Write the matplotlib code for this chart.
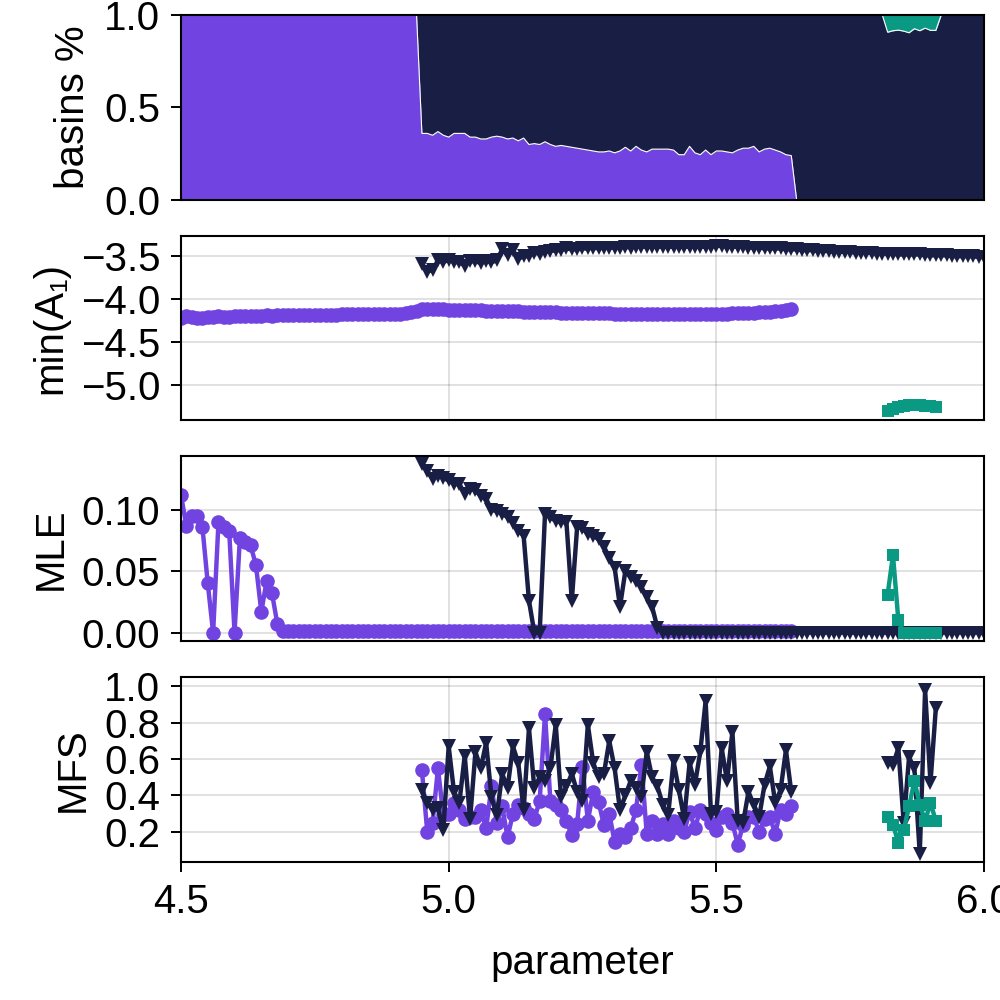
import matplotlib
matplotlib.use('Agg')
import matplotlib.pyplot as plt
import numpy as np

plt.rcParams['font.family'] = ['Liberation Sans', 'DejaVu Sans']

PURPLE = '#7143E0'
TEAL = '#0A9A84'
NAVY = '#191E44'

# parameter grid 4.50 ... 6.00, step 0.01
param = np.round(np.linspace(4.5, 6.0, 151), 2)

# --- basins fractions (full grid) ---
basin_purple = [
    1.0, 1.0, 1.0, 1.0, 1.0, 1.0, 1.0, 1.0, 1.0, 1.0,
    1.0, 1.0, 1.0, 1.0, 1.0, 1.0, 1.0, 1.0, 1.0, 1.0,
    1.0, 1.0, 1.0, 1.0, 1.0, 1.0, 1.0, 1.0, 1.0, 1.0,
    1.0, 1.0, 1.0, 1.0, 1.0, 1.0, 1.0, 1.0, 1.0, 1.0,
    1.0, 1.0, 1.0, 1.0, 1.0,
    0.36, 0.36, 0.35, 0.37, 0.35, 0.34, 0.36, 0.36, 0.36, 0.34,
    0.34, 0.33, 0.33, 0.34, 0.345, 0.34, 0.33, 0.335, 0.32, 0.335,
    0.30, 0.305, 0.30, 0.315, 0.30, 0.29, 0.295, 0.29, 0.285, 0.28,
    0.275, 0.27, 0.265, 0.26, 0.26, 0.265, 0.255, 0.265, 0.285, 0.265,
    0.29, 0.27, 0.26, 0.275, 0.275, 0.275, 0.275, 0.27, 0.245, 0.245,
    0.29, 0.255, 0.245, 0.27, 0.245, 0.265, 0.265, 0.26, 0.255, 0.27,
    0.28, 0.28, 0.29, 0.26, 0.275, 0.28, 0.27, 0.26, 0.245, 0.24,
    0.0, 0.0, 0.0, 0.0, 0.0, 0.0, 0.0, 0.0, 0.0, 0.0,
    0.0, 0.0, 0.0, 0.0, 0.0, 0.0, 0.0, 0.0, 0.0, 0.0,
    0.0, 0.0, 0.0, 0.0, 0.0, 0.0, 0.0, 0.0, 0.0, 0.0,
    0.0, 0.0, 0.0, 0.0, 0.0, 0.0,
]
# teal basin only between 5.82 and 5.91
teal_range = (5.82, 5.91)
basin_teal_vals = [0.093, 0.085, 0.082, 0.087, 0.096, 0.074, 0.085, 0.071, 0.083, 0.083]

# --- min(A1) ---
mina_purple = [  # 4.50 .. 5.64
    -4.22, -4.20, -4.21, -4.22, -4.22, -4.21, -4.21, -4.20, -4.21, -4.21,
    -4.20, -4.20, -4.20, -4.20, -4.20, -4.20, -4.19, -4.20, -4.19, -4.19,
    -4.19, -4.19, -4.19, -4.19, -4.19, -4.19, -4.19, -4.19, -4.19, -4.19,
    -4.18, -4.18, -4.18, -4.18, -4.18, -4.18, -4.18, -4.18, -4.18, -4.17,
    -4.17, -4.17, -4.16, -4.15, -4.14,
    -4.12, -4.12, -4.12, -4.12, -4.12,
    -4.13, -4.13, -4.13, -4.13, -4.13, -4.13, -4.13, -4.14, -4.14, -4.14,
    -4.14, -4.14, -4.14, -4.14, -4.15, -4.15, -4.15, -4.15, -4.15, -4.15,
    -4.15, -4.16, -4.16, -4.16, -4.16, -4.16, -4.16, -4.16, -4.16, -4.16,
    -4.16, -4.17, -4.17, -4.17, -4.17, -4.17, -4.17, -4.17, -4.17, -4.17,
    -4.17, -4.17, -4.17, -4.17, -4.17, -4.17, -4.17, -4.17, -4.17, -4.17,
    -4.17, -4.17, -4.17, -4.16, -4.16, -4.16, -4.16, -4.16, -4.15, -4.15,
    -4.15, -4.14, -4.14, -4.13, -4.12,
]
mina_navy = [  # 4.95 .. 6.00
    -3.59, -3.68, -3.66, -3.55, -3.57,
    -3.54, -3.57, -3.57, -3.61, -3.56, -3.56, -3.58, -3.56, -3.57, -3.55,
    -3.42, -3.49, -3.43, -3.53, -3.50, -3.50, -3.46, -3.47, -3.45, -3.44,
    -3.43, -3.43, -3.41, -3.42, -3.42, -3.41, -3.41, -3.40, -3.41, -3.40,
    -3.40, -3.40, -3.40, -3.39, -3.40, -3.39, -3.39, -3.39, -3.39, -3.39,
    -3.39, -3.39, -3.39, -3.39, -3.39, -3.39, -3.39, -3.39, -3.39, -3.39,
    -3.38, -3.38, -3.39, -3.39, -3.39, -3.39, -3.40, -3.40, -3.40, -3.41,
    -3.41, -3.41, -3.41, -3.42, -3.42, -3.42, -3.43, -3.43, -3.43, -3.44,
    -3.44, -3.44, -3.45, -3.45, -3.45, -3.45, -3.46, -3.46, -3.46, -3.46,
    -3.47, -3.47, -3.47, -3.47, -3.48, -3.48, -3.48, -3.48, -3.48, -3.49,
    -3.49, -3.49, -3.49, -3.49, -3.50, -3.50, -3.50, -3.50, -3.50, -3.51,
    -3.51,
]
mina_teal = [-5.30, -5.28, -5.26, -5.25, -5.24, -5.24, -5.24, -5.25, -5.25, -5.26]

# --- MLE ---
mle_purple = [  # 4.50 .. 5.64
    0.112, 0.087, 0.095, 0.095, 0.086, 0.040, 0.0, 0.090, 0.086, 0.083,
    0.0, 0.077, 0.074, 0.071, 0.055, 0.017, 0.042, 0.032, 0.007, 0.001,
    0.0015, 0.0015, 0.0015, 0.0015, 0.0015, 0.0015, 0.0015, 0.0015, 0.0015, 0.0015,
    0.0015, 0.0015, 0.0015, 0.0015, 0.0015, 0.0015, 0.0015, 0.0015, 0.0015, 0.0015,
    0.0015, 0.0015, 0.0015, 0.0015, 0.0015, 0.0015, 0.0015, 0.0015, 0.0015, 0.0015,
    0.0015, 0.0015, 0.0015, 0.0015, 0.0015, 0.0015, 0.0015, 0.0015, 0.0015, 0.0015,
    0.0015, 0.0015, 0.0015, 0.0015, 0.0015, 0.0015, 0.0015, 0.0015, 0.0015, 0.0015,
    0.0015, 0.0015, 0.0015, 0.0015, 0.0015, 0.0015, 0.0015, 0.0015, 0.0015, 0.0015,
    0.0015, 0.0015, 0.0015, 0.0015, 0.0015, 0.0015, 0.0015, 0.0015, 0.0015, 0.0015,
    0.0015, 0.0015, 0.0015, 0.0015, 0.0015, 0.0015, 0.0015, 0.0015, 0.0015, 0.0015,
    0.0015, 0.0015, 0.0015, 0.0015, 0.0015, 0.0015, 0.0015, 0.0015, 0.0015, 0.0015,
    0.0015, 0.0015, 0.0015, 0.0015, 0.0015,
]
mle_navy = [  # 4.95 .. 6.00
    0.137, 0.132, 0.125, 0.128, 0.126,
    0.124, 0.121, 0.121, 0.113, 0.117, 0.116, 0.111, 0.109, 0.100, 0.099,
    0.097, 0.094, 0.089, 0.083, 0.079, 0.026, 0.0, 0.0, 0.097, 0.094,
    0.091, 0.090, 0.090, 0.026, 0.086, 0.085, 0.080, 0.079, 0.076, 0.070,
    0.061, 0.053, 0.021, 0.050, 0.045, 0.042, 0.037, 0.029, 0.021, 0.004,
    0.0, 0.0, 0.0, 0.0, 0.0, 0.0, 0.0, 0.0, 0.0, 0.0,
    0.0, 0.0, 0.0, 0.0, 0.0, 0.0, 0.0, 0.0, 0.0, 0.0,
    0.0, 0.0, 0.0, 0.0, 0.0, 0.0, 0.0, 0.0, 0.0, 0.0,
    0.0, 0.0, 0.0, 0.0, 0.0, 0.0, 0.0, 0.0, 0.0, 0.0,
    0.0, 0.0, 0.0, 0.0, 0.0, 0.0, 0.0, 0.0, 0.0, 0.0,
    0.0, 0.0, 0.0, 0.0, 0.0, 0.0, 0.0, 0.0, 0.0, 0.0,
    0.0,
]
mle_teal = [0.031, 0.063, 0.010, 0.0, 0.0, 0.0, 0.0, 0.0, 0.0, 0.0]

# --- MFS ---
mfs_purple = [  # 4.95 .. 5.64
    0.54, 0.20, 0.25, 0.55, 0.29, 0.30, 0.36, 0.32, 0.27, 0.28,
    0.28, 0.32, 0.22, 0.45, 0.25, 0.34, 0.17, 0.30, 0.35, 0.33,
    0.30, 0.27, 0.37, 0.85, 0.37, 0.345, 0.32, 0.26, 0.18, 0.245,
    0.555, 0.26, 0.42, 0.365, 0.236, 0.30, 0.145, 0.19, 0.17, 0.22,
    0.32, 0.57, 0.19, 0.26, 0.19, 0.245, 0.19, 0.26, 0.22, 0.20,
    0.31, 0.22, 0.32, 0.30, 0.25, 0.21, 0.28, 0.30, 0.25, 0.13,
    0.24, 0.28, 0.28, 0.20, 0.27, 0.28, 0.19, 0.32, 0.30, 0.34,
]
mfs_navy = [  # 4.95 .. 5.64
    0.43, 0.36, 0.32, 0.33, 0.21, 0.67, 0.42, 0.36, 0.62, 0.27,
    0.64, 0.55, 0.69, 0.39, 0.29, 0.52, 0.44, 0.67, 0.58, 0.32,
    0.77, 0.44, 0.50, 0.48, 0.55, 0.79, 0.39, 0.45, 0.52, 0.42,
    0.37, 0.79, 0.58, 0.50, 0.52, 0.70, 0.55, 0.32, 0.40, 0.48,
    0.44, 0.39, 0.64, 0.50, 0.45, 0.35, 0.29, 0.59, 0.43, 0.27,
    0.58, 0.46, 0.64, 0.92, 0.30, 0.31, 0.66, 0.48, 0.75, 0.26,
    0.25, 0.42, 0.35, 0.28, 0.46, 0.56, 0.36, 0.43, 0.65, 0.42,
]
mfs_navy_right = [0.58, 0.57, 0.66, 0.25, 0.61, 0.55, 0.08, 0.98, 0.47, 0.88]  # 5.82 .. 5.91
mfs_teal = [0.28, 0.24, 0.14, 0.21, 0.34, 0.48, 0.35, 0.26, 0.36, 0.26]  # 5.82 .. 5.91

# x arrays for each series
x_all = param
x_purple_long = param[(param >= 4.5) & (param <= 5.64)]
x_mid = param[(param >= 4.95) & (param <= 5.64)]
x_navy = param[param >= 4.95]
x_teal = param[(param >= teal_range[0]) & (param <= teal_range[1])]

basin_teal = np.zeros(len(param))
basin_teal[(param >= teal_range[0]) & (param <= teal_range[1])] = basin_teal_vals
basin_purple = np.array(basin_purple)
navy_top = 1.0 - basin_teal

fig = plt.figure(figsize=(10, 10), dpi=100)
W, H = 1000.0, 1000.0
left, right = 181, 984
panels = [(15, 200), (236, 420), (456, 641), (677, 862)]
axs = []
for top, bot in panels:
    ax = fig.add_axes([left / W, 1 - bot / H, (right - left) / W, (bot - top) / H])
    axs.append(ax)

FS = 29
LW = 3.2
MS = 10.5

for ax in axs:
    ax.set_xlim(4.5, 6.0)
    ax.set_xticks([4.5, 5.0, 5.5, 6.0])
    ax.grid(True, color='black', alpha=0.12, linewidth=1.4)
    ax.set_axisbelow(True)
    for s in ax.spines.values():
        s.set_linewidth(1.5)
    ax.tick_params(labelsize=FS, length=7, width=1.4, pad=8, direction='out')

for ax in axs[:3]:
    ax.tick_params(axis='x', which='both', bottom=False, labelbottom=False)

# panel 1: basins
ax = axs[0]
ax.fill_between(x_all, 0, basin_purple, color=PURPLE, linewidth=0)
ax.fill_between(x_all, basin_purple, navy_top, color=NAVY, linewidth=0)
ax.fill_between(x_all, navy_top, 1.0, color=TEAL, linewidth=0)
ax.plot(x_all, basin_purple, color='white', lw=0.8)
ax.plot(x_all, navy_top, color='white', lw=0.8)
ax.set_ylim(0, 1)
ax.set_yticks([0.0, 0.5, 1.0])
ax.grid(False)
ax.set_ylabel('basins %', fontsize=FS, labelpad=8.5)

# panel 2: min(A1)
ax = axs[1]
ax.plot(x_purple_long, mina_purple, color=PURPLE, lw=LW, marker='o', ms=MS, mew=0)
ax.plot(x_navy, mina_navy, color=NAVY, lw=LW, marker='v', ms=10, mew=0)
ax.plot(x_teal, mina_teal, color=TEAL, lw=LW, marker='s', ms=8.5, mew=0)
ax.set_ylim(-5.41, -3.265)
ax.set_yticks([-5.0, -4.5, -4.0, -3.5])
ax.set_ylabel('min(A\u2081)', fontsize=FS, labelpad=8.5)

# panel 3: MLE
ax = axs[2]
ax.plot(x_purple_long, mle_purple, color=PURPLE, lw=LW, marker='o', ms=MS, mew=0)
ax.plot(x_navy, mle_navy, color=NAVY, lw=LW, marker='v', ms=10, mew=0)
ax.plot(x_teal, mle_teal, color=TEAL, lw=LW, marker='s', ms=8.5, mew=0)
ax.set_ylim(-0.0069, 0.1439)
ax.set_yticks([0.0, 0.05, 0.10])
ax.set_yticklabels(['0.00', '0.05', '0.10'])
ax.set_ylabel('MLE', fontsize=FS, labelpad=8.5)

# panel 4: MFS
ax = axs[3]
ax.plot(x_mid, mfs_purple, color=PURPLE, lw=LW, marker='o', ms=MS, mew=0)
ax.plot(x_mid, mfs_navy, color=NAVY, lw=LW, marker='v', ms=10, mew=0)
ax.plot(x_teal, mfs_navy_right, color=NAVY, lw=LW, marker='v', ms=10, mew=0)
ax.plot(x_teal, mfs_teal, color=TEAL, lw=LW, marker='s', ms=8.5, mew=0)
ax.set_ylim(0.034, 1.052)
ax.set_yticks([0.2, 0.4, 0.6, 0.8, 1.0])
ax.set_yticklabels(['0.2', '0.4', '0.6', '0.8', '1.0'])
ax.set_ylabel('MFS', fontsize=FS, labelpad=8.5)
ax.set_xticklabels(['4.5', '5.0', '5.5', '6.0'])
ax.set_xlabel('parameter', fontsize=FS, labelpad=17)

fig.savefig('out.png', dpi=100)
